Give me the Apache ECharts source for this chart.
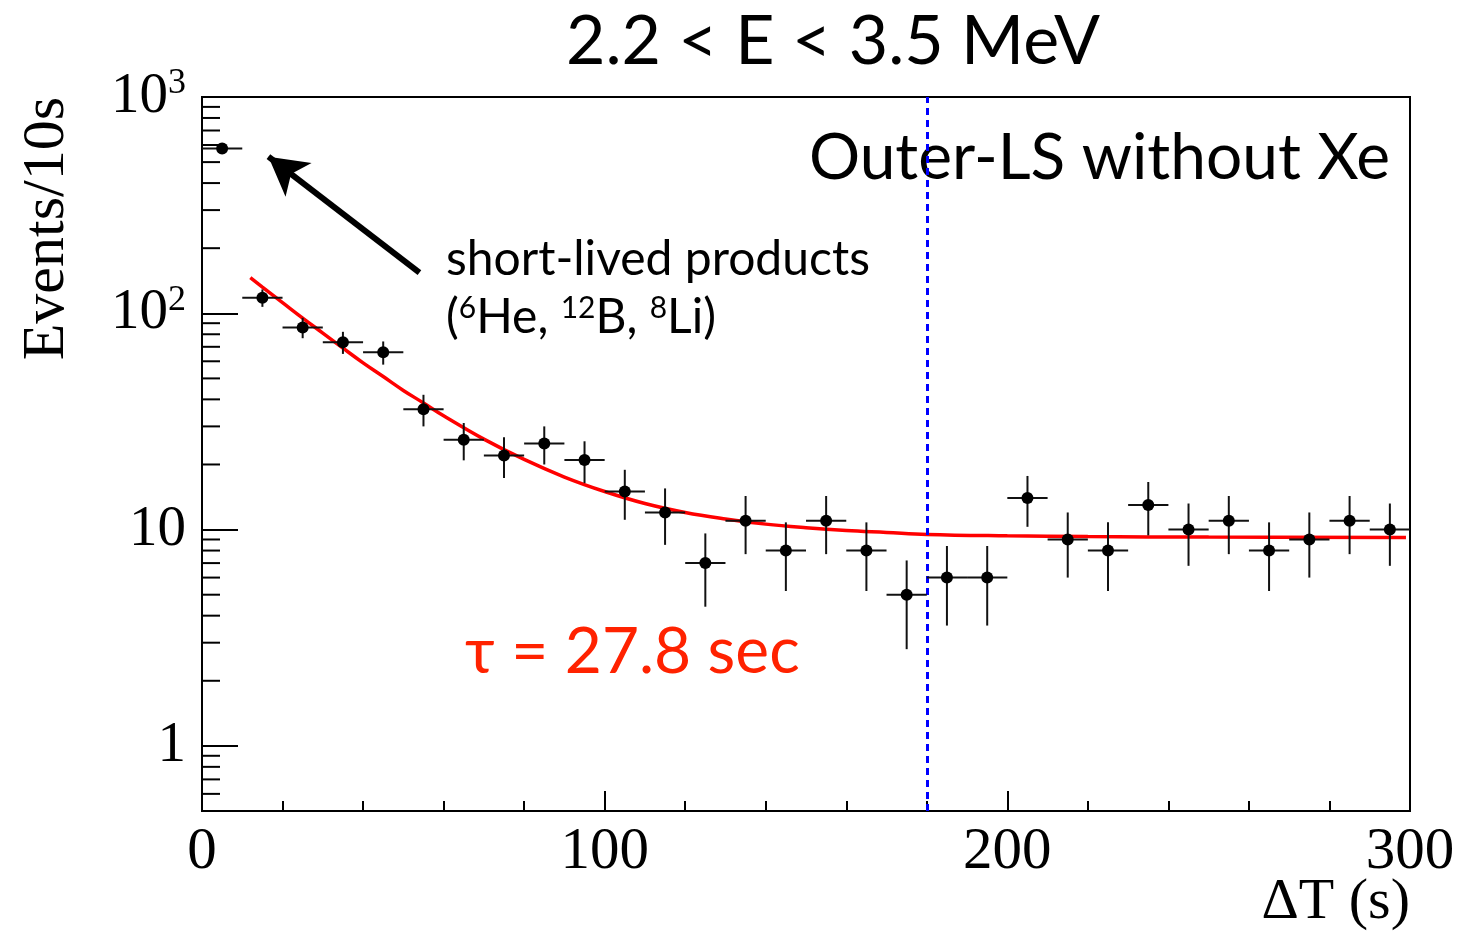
<!DOCTYPE html>
<html>
<head>
<meta charset="utf-8">
<script src="https://cdn.jsdelivr.net/npm/echarts@6/dist/echarts.min.js"></script>
<style>
html,body{margin:0;padding:0;background:#fff;}
#chart{width:1474px;height:931px;}
</style>
</head>
<body>
<div id="chart"></div>
<script>
// ---- data ----
var binCenters = [5,15,25,35,45,55,65,75,85,95,105,115,125,135,145,155,165,175,185,195,205,215,225,235,245,255,265,275,285,295];
var counts = [578,118,86,73.5,66,36,26,22,25,21,15,12,7,11,8,11,8,5,6,6,14,9,8,13,10,11,8,9,11,10];
var errors = [24,10.9,9.3,8.6,8.1,6.0,5.1,4.7,5.0,4.6,3.9,3.5,2.6,3.3,2.8,3.3,2.8,2.2,2.4,2.4,3.7,3.0,2.8,3.6,3.2,3.3,2.8,3.0,3.3,3.2];
var binHalfWidth = 5;
var fitT = [12,15,20,25,30,35,40,45,50,55,60,70,80,90,100,110,120,130,140,150,160,170,180,200,220,250,299];
var fitY = [146,132,112,95,81,69,59,51,44,38.5,33.6,26.2,21.1,17.5,15,13.2,12,11.2,10.6,10.2,9.9,9.7,9.5,9.36,9.28,9.23,9.2];
var cutT = 180;
var arrowFrom = [54, 154];
var arrowTo = [16.5, 530];
var xTicks = [0,100,200,300];
var yMajorLabels = {1000:'10{s|3}', 100:'10{s|2}', 10:'10', 1:'1'};
var yMinorTicks = [];
[0.1,1,10,100].forEach(function(d){ for (var m=2;m<=9;m++){ var v=+(m*d).toPrecision(3); if (v>=0.5 && v<1000) yMinorTicks.push(v);} });

var pts = binCenters.map(function(t,i){ return [t, counts[i], errors[i]]; });
var fit = fitT.map(function(t,i){ return [t, fitY[i]]; });

var chart = echarts.init(document.getElementById('chart'));
var serif = 'Liberation Serif';
var sans = 'Lato';

var option = {
  animation: false,
  backgroundColor: '#fff',
  grid: {left: 202, right: 64, top: 97, bottom: 120, show: true, borderColor: '#000', borderWidth: 2, backgroundColor: 'transparent'},
  xAxis: {
    type: 'value', min: 0, max: 300, interval: 100,
    axisLine: {show: true, lineStyle: {color: '#000', width: 2}},
    axisTick: {show: true, inside: true, length: 20, lineStyle: {color: '#000', width: 2}},
    minorTick: {show: true, splitNumber: 5, length: 10, lineStyle: {color: '#000', width: 2}},
    splitLine: {show: false},
    axisLabel: {fontFamily: serif, fontSize: 59, color: '#000', margin: 12}
  },
  yAxis: {
    type: 'log', logBase: 10, min: 0.5, max: 1000,
    axisLine: {show: true, lineStyle: {color: '#000', width: 2}},
    axisTick: {show: true, inside: true, length: 36, lineStyle: {color: '#000', width: 2}},
    splitLine: {show: false},
    axisLabel: {
      fontFamily: serif, fontSize: 57, color: '#000', margin: 16,
      formatter: function(v){ var k = Math.round(v); return (Math.abs(v-k) < 1e-6 && yMajorLabels[k]) ? yMajorLabels[k] : ''; },
      rich: {s: {fontFamily: serif, fontSize: 36, padding: [0,0,26,0], color: '#000'}}
    }
  },
  series: [
    {
      type: 'custom', name: 'minorY', silent: true, clip: false, z: 3,
      data: yMinorTicks.map(function(v){ return [0, v]; }),
      renderItem: function(params, api){
        var p = api.coord([0, api.value(1)]);
        return {type: 'line', shape: {x1: p[0], y1: p[1], x2: p[0]+18, y2: p[1]}, style: {stroke: '#000', lineWidth: 2}};
      }
    },
    {
      type: 'line', name: 'fit', data: fit, smooth: 0.4, showSymbol: false, symbol: 'none', z: 4,
      lineStyle: {color: '#ff0000', width: 3.5},
      markLine: {
        silent: true, animation: false,
        data: [
          [{coord: arrowFrom, symbol: 'none', lineStyle: {color: '#000', width: 6, type: 'solid'}},
           {coord: arrowTo, symbol: 'arrow', symbolSize: [32, 38]}],
          [{coord: [cutT, 0.5], symbol: 'none', lineStyle: {color: '#0000ff', width: 3, type: [7,5]}},
           {coord: [cutT, 1000], symbol: 'none'}]
        ],
        label: {show: false}
      }
    },
    {
      type: 'custom', name: 'data', z: 5, clip: false,
      data: pts,
      renderItem: function(params, api){
        var t = api.value(0), n = api.value(1), e = api.value(2);
        var c = api.coord([t, n]);
        var l = api.coord([t-binHalfWidth, n]);
        var r = api.coord([t+binHalfWidth, n]);
        var lo = api.coord([t, Math.max(n-e, 0.5)]);
        var hi = api.coord([t, n+e]);
        return {type: 'group', children: [
          {type: 'line', shape: {x1: l[0], y1: c[1], x2: r[0], y2: c[1]}, style: {stroke: '#111', lineWidth: 2}},
          {type: 'line', shape: {x1: c[0], y1: lo[1], x2: c[0], y2: hi[1]}, style: {stroke: '#111', lineWidth: 2}},
          {type: 'circle', shape: {cx: c[0], cy: c[1], r: 6}, style: {fill: '#000'}}
        ]};
      }
    }
  ],
  graphic: [
    {type: 'text', x: 833, y: 42, style: {text: '2.2 < E < 3.5 MeV', font: '68px ' + sans, fill: '#000', align: 'center', verticalAlign: 'middle'}},
    {type: 'text', x: 1390, y: 158, style: {text: 'Outer-LS without Xe', font: '64px ' + sans, fill: '#000', align: 'right', verticalAlign: 'middle'}},
    {type: 'text', x: 446, y: 260, style: {text: 'short-lived products', font: '48px ' + sans, fill: '#000', align: 'left', verticalAlign: 'middle'}},
    {type: 'text', x: 446, y: 318, style: {text: '({s|6}He, {s|12}B, {s|8}Li)', font: '48px ' + sans, fill: '#000', align: 'left', verticalAlign: 'middle',
      rich: {s: {fontFamily: sans, fontSize: 30, padding: [0,0,20,0], fill: '#000'}}}},
    {type: 'text', x: 465, y: 652, style: {text: 'τ = 27.8 sec', font: '64px ' + sans, fill: '#ff2200', align: 'left', verticalAlign: 'middle'}},
    {type: 'text', x: 47, y: 97, rotation: Math.PI/2, style: {text: 'Events/10s', font: '60px ' + serif, fill: '#000', align: 'right', verticalAlign: 'middle'}},
    {type: 'text', x: 1410, y: 903, style: {text: 'ΔT (s)', font: '58px ' + serif, fill: '#000', align: 'right', verticalAlign: 'middle'}}
  ]
};
chart.setOption(option);
</script>
</body>
</html>
